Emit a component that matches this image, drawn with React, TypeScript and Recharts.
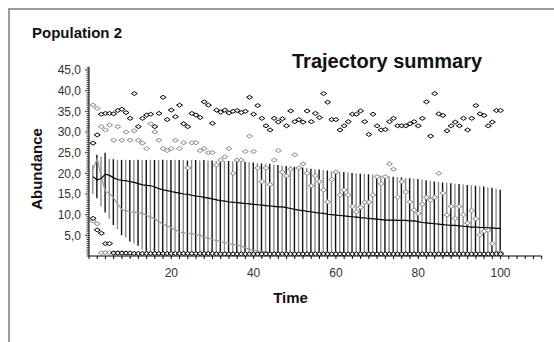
import { ComposedChart, Bar, Line, Scatter, XAxis, YAxis, Cell } from 'recharts';

// time steps 1..100
const times = Array.from({ length: 100 }, (_, i) => i + 1);

const blackMax = [
  27.3, 29.3, 34.3, 34.5, 34.5, 34.4, 35.2, 35.5, 34.7, 33.3,
  39.3, 31.3, 33.3, 34.1, 34.3, 31.3, 34.5, 38.4, 33.0, 35.3,
  33.7, 36.5, 32.0, 31.3, 34.5, 34.1, 33.5, 37.3, 36.5, 32.1,
  35.3, 34.8, 35.3, 34.6, 35.0, 35.2, 34.7, 35.0, 38.4, 34.3,
  36.4, 33.3, 31.5, 30.5, 33.3, 32.4, 33.2, 31.5, 35.1, 32.5,
  33.0, 32.4, 35.1, 32.5, 34.5, 33.5, 39.3, 37.2, 33.0, 33.0,
  30.5, 31.5, 32.5, 34.3, 34.3, 35.1, 32.5, 29.4, 34.3, 31.5,
  30.5, 30.6, 32.5, 33.3, 31.5, 31.5, 31.5, 32.0, 32.5, 31.5,
  33.3, 37.3, 29.0, 39.3, 34.4, 34.0, 30.3, 31.5, 32.4, 31.5,
  33.3, 30.5, 33.3, 36.4, 34.4, 34.0, 31.5, 32.4, 35.2, 35.2,
];

const grayMax = [
  36.5, 35.7, 31.3, 30.5, 31.7, 28.0, 31.3, 28.0, 30.0, 28.0,
  30.3, 28.0, 27.3, 26.0, 32.0, 30.0, 28.0, 26.0, 25.5, 26.0,
  28.0, 26.0, 27.4, 21.3, 27.4, 27.4, 25.5, 26.0, 25.0, 25.0,
  22.0, 23.2, 24.0, 26.0, 20.0, 23.2, 23.2, 25.3, 29.0, 25.3,
  21.3, 18.0, 21.3, 17.3, 23.2, 25.5, 20.3, 19.4, 21.0, 24.5,
  21.3, 22.3, 20.0, 17.0, 19.4, 18.0, 16.0, 13.1, 18.5, 20.3,
  14.8, 16.0, 14.8, 12.0, 10.7, 11.8, 13.0, 13.0, 14.8, 19.2,
  17.5, 19.2, 22.3, 21.0, 14.2, 18.0, 15.5, 13.1, 11.1, 10.3,
  12.5, 14.2, 13.5, 14.2, 20.0, 15.2, 9.9, 12.0, 9.1, 12.0,
  10.0, 8.0, 11.0, 9.0, 5.1, 6.0, 6.2, 3.0, 0.7, 0.7,
];

const blackMin = [
  9.1, 6.3, 5.5, 3.0, 3.0, 0.7, 0.7, 0.7, 0.7, 0.7,
  0.6, 0.6, 0.6, 0.6, 0.6, 0.6, 0.6, 0.6, 0.6, 0.6,
  0.6, 0.6, 0.6, 0.6, 0.6, 0.6, 0.6, 0.6, 0.6, 0.6,
  0.5, 0.5, 0.5, 0.5, 0.5, 0.5, 0.5, 0.5, 0.5, 0.5,
  0.5, 0.5, 0.5, 0.5, 0.5, 0.5, 0.5, 0.5, 0.5, 0.5,
  0.5, 0.5, 0.5, 0.5, 0.5, 0.5, 0.5, 0.5, 0.5, 0.5,
  0.5, 0.5, 0.5, 0.5, 0.5, 0.5, 0.5, 0.5, 0.5, 0.5,
  0.5, 0.5, 0.5, 0.5, 0.5, 0.5, 0.5, 0.5, 0.5, 0.5,
  0.5, 0.5, 0.5, 0.5, 0.5, 0.5, 0.5, 0.5, 0.5, 0.5,
  0.5, 0.5, 0.5, 0.5, 0.5, 0.5, 0.5, 0.5, 0.5, 0.5,
];

const grayMin = [
  8.5, 7.8, 0.8, 0.8, 0.8, 0.8, 0.8, 0.8, 0.7, 0.6,
  0.6, 0.6, 0.6, 0.6, 0.6, 0.6, 0.6, 0.6, 0.6, 0.6,
  0.6, 0.6, 0.6, 0.6, 0.6, 0.6, 0.6, 0.6, 0.6, 0.6,
  0.5, 0.5, 0.5, 0.5, 0.5, 0.5, 0.5, 0.5, 0.5, 0.5,
  0.5, 0.5, 0.5, 0.5, 0.5, 0.5, 0.5, 0.5, 0.5, 0.5,
  0.5, 0.5, 0.5, 0.5, 0.5, 0.5, 0.5, 0.5, 0.5, 0.5,
  0.5, 0.5, 0.5, 0.5, 0.5, 0.5, 0.5, 0.5, 0.5, 0.5,
  0.5, 0.5, 0.5, 0.5, 0.5, 0.5, 0.5, 0.5, 0.5, 0.5,
  0.5, 0.5, 0.5, 0.5, 0.5, 0.5, 0.5, 0.5, 0.5, 0.5,
  0.5, 0.5, 0.5, 0.5, 0.5, 0.5, 0.5, 0.5, 0.8, 0.8,
];

const blackMean = [
  19.2, 18.4, 18.8, 19.8, 19.5, 18.9, 18.5, 18.3, 18.2, 18.0,
  17.8, 17.5, 17.2, 17.1, 17.0, 16.7, 16.3, 16.0, 15.8, 15.6,
  15.4, 15.2, 15.0, 14.9, 14.7, 14.5, 14.4, 14.2, 14.0, 13.8,
  13.6, 13.4, 13.3, 13.1, 13.0, 12.9, 12.8, 12.7, 12.6, 12.5,
  12.4, 12.3, 12.2, 12.1, 12.0, 11.9, 11.9, 11.7, 11.5, 11.3,
  11.1, 11.0, 10.8, 10.7, 10.5, 10.4, 10.3, 10.1, 10.0, 9.9,
  9.8, 9.7, 9.6, 9.5, 9.4, 9.3, 9.2, 9.1, 9.0, 8.9,
  8.8, 8.7, 8.7, 8.7, 8.6, 8.6, 8.6, 8.5, 8.5, 8.3,
  8.1, 8.0, 7.9, 7.8, 7.7, 7.6, 7.5, 7.4, 7.4, 7.3,
  7.2, 7.1, 7.0, 7.0, 6.9, 6.9, 6.8, 6.8, 6.7, 6.7,
];

const grayMean = [
  21.0, 23.5, 19.0, 15.6, 15.2, 14.0, 12.5, 11.2, 10.9, 10.7,
  10.6, 10.5, 10.3, 9.8, 9.4, 9.0, 8.3, 7.7, 7.3, 6.8,
  6.3, 5.8, 5.6, 5.5, 5.4, 5.2, 5.0, 4.6, 4.3, 4.0,
  3.7, 3.5, 3.2, 3.0, 2.8, 2.7, 2.4, 2.0, 1.6, 1.4,
  1.2, 1.1, 1.0, 0.8, 0.7, 0.6, 0.5, 0.5, 0.4, 0.4,
  0.3, 0.3, 0.3, 0.2, 0.2, 0.2, 0.2, 0.2, 0.2, 0.2,
  0.2, 0.2, 0.2, 0.2, 0.2, 0.2, 0.2, 0.2, 0.2, 0.2,
  0.2, 0.2, 0.2, 0.2, 0.2, 0.2, 0.2, 0.2, 0.2, 0.2,
  0.2, 0.2, 0.2, 0.2, 0.2, 0.2, 0.2, 0.2, 0.2, 0.2,
  0.2, 0.2, 0.2, 0.2, 0.2, 0.2, 0.2, 0.2, 0.2, 0.2,
];

const barHigh = [
  22.0, 24.5, 24.0, 25.0, 23.5, 23.4, 23.3, 23.2, 23.3, 23.2,
  23.2, 23.3, 23.2, 23.2, 23.3, 23.2, 23.2, 23.3, 23.2, 23.2,
  23.3, 23.2, 23.2, 23.1, 23.2, 23.2, 23.1, 23.2, 23.1, 23.1,
  23.0, 23.1, 23.0, 23.0, 22.9, 23.0, 22.8, 22.8, 22.7, 22.6,
  22.5, 22.4, 22.3, 22.3, 22.1, 22.0, 21.9, 21.8, 21.7, 21.6,
  21.5, 21.4, 21.3, 21.1, 21.0, 20.9, 20.8, 20.7, 20.5, 20.4,
  20.3, 20.3, 20.2, 20.1, 20.0, 19.9, 19.9, 19.8, 19.7, 19.6,
  19.5, 19.4, 19.3, 19.2, 19.1, 19.0, 18.9, 18.8, 18.7, 18.6,
  18.5, 18.3, 18.2, 18.0, 17.9, 17.8, 17.7, 17.6, 17.5, 17.4,
  17.3, 17.2, 17.1, 17.0, 16.9, 16.8, 16.6, 16.5, 16.3, 16.0,
];

const barLow = [
  15.0, 14.0, 12.0, 10.5, 9.0, 7.5, 6.5, 5.0, 4.5, 3.5,
  3.0, 2.5, 1.5, 1.0, 0.5, 0, 0, 0, 0, 0,
  0, 0, 0, 0, 0, 0, 0, 0, 0, 0,
  0, 0, 0, 0, 0, 0, 0, 0, 0, 0,
  0, 0, 0, 0, 0, 0, 0, 0, 0, 0,
  0, 0, 0, 0, 0, 0, 0, 0, 0, 0,
  0, 0, 0, 0, 0, 0, 0, 0, 0, 0,
  0, 0, 0, 0, 0, 0, 0, 0, 0, 0,
  0, 0, 0, 0, 0, 0, 0, 0, 0, 0,
  0, 0, 0, 0, 0, 0, 0, 0, 0, 0,
];

const xTicks = Array.from({ length: 56 }, (_, i) => i * 2);
const xLabels = [20, 40, 60, 80, 100];
const yTicks = Array.from({ length: 92 }, (_, i) => i * 0.5);
const yLabels = [5, 10, 15, 20, 25, 30, 35, 40, 45];

const rows = times.map((t, i) => ({
  t,
  range: [barLow[i], barHigh[i]],
  bMean: blackMean[i],
  gMean: grayMean[i],
  bMax: blackMax[i],
  gMax: grayMax[i],
  bMin: blackMin[i],
  gMin: grayMin[i],
}));

const FONT = '"Liberation Sans", Arial, sans-serif';

const XTick = (props: any) => {
  const { x, y, payload } = props;
  const v = payload.value;
  return (
    <g>
      <line x1={x} x2={x} y1={y} y2={y + 3} stroke="#000" />
      {xLabels.includes(v) && (
        <text x={x} y={y + 20.5} textAnchor="middle" fontSize={12} fill="#333" fontFamily={FONT}>
          {v}
        </text>
      )}
    </g>
  );
};

const YTick = (props: any) => {
  const { x, y, payload } = props;
  const v = payload.value;
  const major = yLabels.includes(v);
  return (
    <g>
      <line x1={x - (major ? 4 : 2.5)} x2={x} y1={y} y2={y} stroke="#000" strokeWidth={0.8} />
      {major && (
        <text x={x - 8} y={y + 4.3} textAnchor="end" fontSize={12} fill="#333" fontFamily={FONT}>
          {v.toFixed(1).replace('.', ',')}
        </text>
      )}
    </g>
  );
};

const diamond = (color: string) => (props: any) => {
  const { cx, cy } = props;
  if (cx == null || cy == null) return <g />;
  return (
    <polygon
      points={`${cx - 3},${cy} ${cx},${cy - 2} ${cx + 3},${cy} ${cx},${cy + 2}`}
      fill="#fff"
      stroke={color}
      strokeWidth={1}
    />
  );
};

export default function App() {
  return (
    <div style={{ position: 'relative', width: 554, height: 342, background: '#fff', overflow: 'hidden' }}>
      <style>{'body{margin:0}'}</style>
      <div
        style={{
          position: 'absolute', left: 8, top: 8, right: 0, bottom: 0,
          borderTop: '2px solid #9a9a9a', borderLeft: '2px solid #9a9a9a',
        }}
      />
      <div style={{ position: 'absolute', left: 0, top: 0 }}>
        <ComposedChart width={554} height={342} data={rows} margin={{ top: 66.7, right: 12.3, bottom: 56, left: 0 }}>
          <XAxis
            dataKey="t"
            type="number"
            domain={[0, 110]}
            ticks={xTicks}
            interval={0}
            height={30}
            tickSize={0}
            tickMargin={0}
            tickLine={false}
            tick={<XTick />}
            axisLine={{ stroke: '#000' }}
            allowDataOverflow
          />
          <YAxis
            type="number"
            domain={[0, 45.8]}
            ticks={yTicks}
            interval={0}
            width={89}
            tickSize={0}
            tickMargin={0}
            tickLine={false}
            tick={<YTick />}
            axisLine={{ stroke: '#000' }}
            allowDataOverflow
          />
          <Bar dataKey="range" barSize={1.4} isAnimationActive={false}>
            {rows.map((r) => (
              <Cell key={r.t} fill={r.t % 2 === 0 ? '#111' : '#8c8c8c'} />
            ))}
          </Bar>
          <Line dataKey="gMean" stroke="#9a9a9a" strokeWidth={1.2} dot={false} isAnimationActive={false} />
          <Line dataKey="bMean" stroke="#000" strokeWidth={1.2} dot={false} isAnimationActive={false} />
          <Scatter dataKey="gMax" shape={diamond('#8a8a8a')} isAnimationActive={false} />
          <Scatter dataKey="gMin" shape={diamond('#8a8a8a')} isAnimationActive={false} />
          <Scatter dataKey="bMax" shape={diamond('#000')} isAnimationActive={false} />
          <Scatter dataKey="bMin" shape={diamond('#000')} isAnimationActive={false} />
        </ComposedChart>
      </div>
      <svg width={554} height={342} style={{ position: 'absolute', left: 0, top: 0, pointerEvents: 'none' }}>
        <text x={32} y={38} fontSize={15} fontWeight="bold" fill="#111" fontFamily={FONT}>Population 2</text>
        <text x={292} y={68} fontSize={20} fontWeight="bold" fill="#111" fontFamily={FONT}>Trajectory summary</text>
        <text
          x={41.5}
          y={169}
          fontSize={15}
          fontWeight="bold"
          fill="#111"
          textAnchor="middle"
          fontFamily={FONT}
          transform="rotate(-90 41.5 169)"
        >
          Abundance
        </text>
        <text x={290.5} y={302.5} fontSize={15} fontWeight="bold" fill="#111" textAnchor="middle" fontFamily={FONT}>Time</text>
      </svg>
    </div>
  );
}
